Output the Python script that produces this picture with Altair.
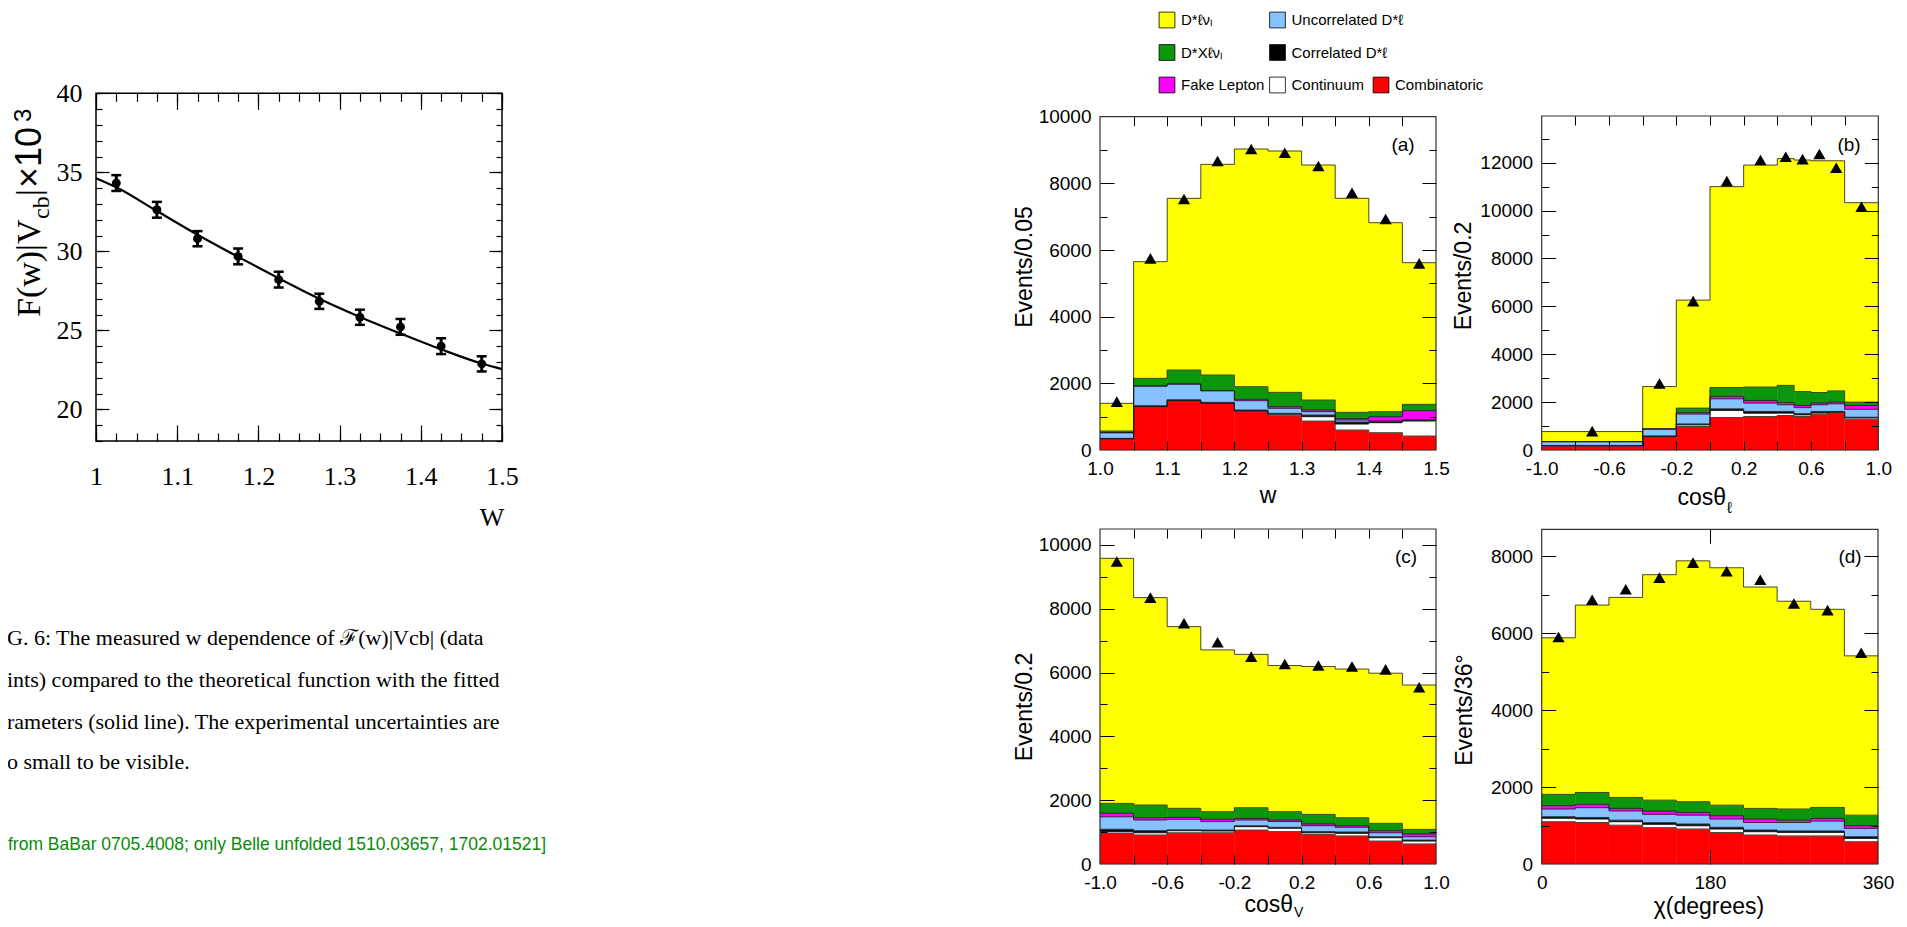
import altair as alt
import pandas as pd

WT, HT = 1891, 911
SERIF = "Liberation Serif"
SANS = "Liberation Sans"

# ---------------- left plot: F(w)|Vcb| x 10^3 ----------------
w_points = [1.025, 1.075, 1.125, 1.175, 1.225, 1.275, 1.325, 1.375, 1.425, 1.475]
F_points = [34.32, 32.63, 30.80, 29.68, 28.21, 26.84, 25.83, 25.22, 24.00, 22.88]
F_errors = [0.50, 0.50, 0.48, 0.50, 0.50, 0.48, 0.48, 0.50, 0.50, 0.48]
w_curve = [1.000, 1.025, 1.075, 1.125, 1.175, 1.225, 1.275, 1.325, 1.375, 1.425, 1.475, 1.500]
F_curve = [34.63, 34.05, 32.55, 31.05, 29.65, 28.30, 27.00, 25.85, 24.80, 23.80, 22.90, 22.55]

# ---------------- stacked histograms ----------------
components = ["Combinatoric", "Continuum", "Correlated D*ℓ", "Uncorrelated D*ℓ",
              "Fake Lepton", "D*Xℓν", "D*ℓν"]
comp_colors = ["#ff0000", "#ffffff", "#000000", "#86c2ff", "#ff00ff", "#0b960b", "#ffff00"]

# (a) w
a_edges = [1.00, 1.05, 1.10, 1.15, 1.20, 1.25, 1.30, 1.35, 1.40, 1.45, 1.50]
a_comb = [330, 1300, 1480, 1400, 1150, 1030, 870, 600, 520, 420]
a_cont = [0, 0, 0, 0, 20, 40, 130, 180, 300, 450]
a_corr = [20, 30, 30, 30, 30, 30, 50, 60, 30, 30]
a_uncorr = [170, 590, 470, 350, 280, 150, 100, 60, 20, 0]
a_fake = [0, 0, 0, 0, 40, 50, 50, 40, 130, 280]
a_dx = [50, 230, 420, 470, 380, 430, 300, 190, 150, 190]
a_total = [1400, 5650, 7550, 8570, 9030, 8970, 8550, 7550, 6820, 5620]
a_data_x = [1.025, 1.075, 1.125, 1.175, 1.225, 1.275, 1.325, 1.375, 1.425, 1.475]
a_data_y = [1450, 5750, 7530, 8670, 9030, 8920, 8520, 7720, 6930, 5600]

# (b) cos theta_l
b_edges = [-1.0, -0.4, -0.2, 0.0, 0.2, 0.4, 0.5, 0.6, 0.7, 0.8, 1.0]
b_comb = [170, 560, 980, 1355, 1400, 1440, 1400, 1500, 1580, 1285]
b_cont = [0, 0, 70, 295, 140, 100, 70, 50, 0, 55]
b_corr = [20, 30, 40, 70, 70, 70, 50, 60, 30, 30]
b_uncorr = [160, 290, 410, 420, 350, 280, 250, 280, 320, 330]
b_fake = [0, 0, 60, 100, 110, 90, 90, 70, 70, 160]
b_dx = [0, 0, 190, 370, 560, 720, 580, 440, 470, 140]
b_total = [770, 2650, 6260, 11000, 11900, 12170, 12110, 12080, 12080, 10330]
b_data_x = [-0.7, -0.3, -0.1, 0.1, 0.3, 0.45, 0.55, 0.65, 0.75, 0.9]
b_data_y = [790, 2780, 6220, 11230, 12110, 12250, 12150, 12360, 11790, 10160]

# (c) cos theta_V
c_edges = [-1.0, -0.8, -0.6, -0.4, -0.2, 0.0, 0.2, 0.4, 0.6, 0.8, 1.0]
c_comb = [960, 910, 980, 980, 1065, 1015, 930, 880, 720, 630]
c_cont = [50, 70, 65, 55, 105, 105, 50, 80, 105, 90]
c_corr = [80, 65, 25, 30, 30, 30, 35, 45, 30, 30]
c_uncorr = [390, 335, 330, 265, 180, 180, 185, 145, 125, 105]
c_fake = [110, 70, 60, 70, 50, 50, 55, 50, 65, 85]
c_dx = [310, 400, 285, 240, 335, 260, 300, 250, 230, 145]
c_total = [9580, 8350, 7440, 6710, 6570, 6220, 6190, 6110, 5980, 5610]
c_data_x = [-0.9, -0.7, -0.5, -0.3, -0.1, 0.1, 0.3, 0.5, 0.7, 0.9]
c_data_y = [9480, 8350, 7545, 6950, 6500, 6270, 6220, 6190, 6100, 5540]

# (d) chi
d_edges = [0, 36, 72, 108, 144, 180, 216, 252, 288, 324, 360]
d_comb = [1100, 1080, 1010, 945, 910, 820, 755, 730, 730, 580]
d_cont = [90, 90, 90, 85, 85, 90, 85, 90, 90, 85]
d_corr = [40, 40, 40, 45, 45, 45, 45, 40, 40, 45]
d_uncorr = [200, 255, 240, 215, 230, 215, 195, 220, 255, 215]
d_fake = [85, 85, 65, 85, 70, 85, 90, 60, 70, 70]
d_dx = [295, 310, 285, 285, 280, 275, 275, 290, 285, 275]
d_total = [5880, 6730, 6930, 7520, 7880, 7700, 7200, 6830, 6620, 5410]
d_data_x = [18, 54, 90, 126, 162, 198, 234, 270, 306, 342]
d_data_y = [5900, 6870, 7140, 7445, 7835, 7610, 7390, 6770, 6600, 5490]

# ---------------- legend / texts ----------------
legend_labels = ["D*ℓνₗ", "D*Xℓνₗ", "Fake Lepton", "Uncorrelated D*ℓ",
                 "Correlated D*ℓ", "Continuum", "Combinatoric"]
legend_colors = ["#ffff00", "#0b960b", "#ff00ff", "#86c2ff", "#000000", "#ffffff", "#ff0000"]
legend_col = [0, 0, 0, 1, 1, 1, 2]
legend_row = [0, 1, 2, 0, 1, 2, 2]

caption_lines = [
    "G. 6:  The measured w dependence of ℱ(w)|Vcb| (data",
    "ints) compared to the theoretical function with the fitted",
    "rameters (solid line).  The experimental uncertainties are",
    "o small to be visible.",
]
note_text = "from BaBar 0705.4008; only Belle unfolded 1510.03657, 1702.01521]"

# ---------------- geometry (chart pixel coordinates) ----------------
P_LEFT = dict(x0=88, x1=494, y0=85.3, y1=433, xd=[1.0, 1.5], yd=[18, 40])
P_A = dict(x0=1092, x1=1428, y0=108.7, y1=442, xd=[1.0, 1.5], yd=[0, 10000])
P_B = dict(x0=1533.7, x1=1870.3, y0=108, y1=442, xd=[-1.0, 1.0], yd=[0, 13950])
P_C = dict(x0=1092, x1=1428, y0=521, y1=856, xd=[-1.0, 1.0], yd=[0, 10500])
P_D = dict(x0=1533.7, x1=1870, y0=521.3, y1=856, xd=[0, 360], yd=[0, 8700])

HYPHEN_1F = "datum.value < 0 ? '-' + format(-datum.value, '.1f') : format(datum.value, '.1f')"


def xs(p):
    return alt.Scale(domain=p["xd"], range=[p["x0"], p["x1"]], nice=False, zero=False)


def ys(p):
    return alt.Scale(domain=p["yd"], range=[p["y1"], p["y0"]], nice=False, zero=False)


def label_ax(orient, offset, values, font, size, pad, fmt=None, expr=None):
    kw = dict(orient=orient, offset=offset, values=values, labels=True, ticks=False,
              tickSize=0, domain=False, grid=False, title=None, labelFont=font,
              labelFontSize=size, labelPadding=pad, labelFlush=False,
              labelOverlap=False, labelColor="black")
    if expr:
        kw["labelExpr"] = expr
    else:
        kw["format"] = fmt
    return alt.Axis(**kw)


def tick_ax(orient, offset, values, size, width=1):
    return alt.Axis(orient=orient, offset=offset, values=values, labels=False, ticks=True,
                    tickSize=size, tickColor="black", tickWidth=width, domain=False,
                    grid=False, title=None, zindex=2)


def axis_layer(p, xaxis, yaxis):
    d = pd.DataFrame({"x": p["xd"], "y": p["yd"]})
    return alt.Chart(d).mark_point(opacity=0).encode(
        x=alt.X("x:Q", scale=xs(p), axis=xaxis),
        y=alt.Y("y:Q", scale=ys(p), axis=yaxis))


def panel_axes(p, xlabax, ylabax, xmaj, lxmaj, xmin, lxmin, ymaj, lymaj, ymin, lymin, tw=1):
    out = [axis_layer(p, xlabax, ylabax)]
    out.append(axis_layer(p, tick_ax("bottom", p["y1"] - lxmaj - HT, xmaj, lxmaj, tw),
                          tick_ax("left", -(p["x0"] + lymaj), ymaj, lymaj, tw)))
    out.append(axis_layer(p, tick_ax("top", -(p["y0"] + lxmaj), xmaj, lxmaj, tw),
                          tick_ax("right", p["x1"] - lymaj - WT, ymaj, lymaj, tw)))
    out.append(axis_layer(p,
                          tick_ax("bottom", p["y1"] - lxmin - HT, xmin, lxmin, tw) if xmin else None,
                          tick_ax("left", -(p["x0"] + lymin), ymin, lymin, tw)))
    out.append(axis_layer(p,
                          tick_ax("top", -(p["y0"] + lxmin), xmin, lxmin, tw) if xmin else None,
                          tick_ax("right", p["x1"] - lymin - WT, ymin, lymin, tw)))
    return out


def frame_layer(p, width=1.2, color="#222222"):
    d = pd.DataFrame({"a": [p["xd"][0]], "b": [p["xd"][1]], "c": [p["yd"][0]], "e": [p["yd"][1]]})
    return alt.Chart(d).mark_rect(fillOpacity=0, stroke=color, strokeWidth=width).encode(
        x=alt.X("a:Q", scale=xs(p), axis=None), x2="b:Q",
        y=alt.Y("c:Q", scale=ys(p), axis=None), y2="e:Q")


def txt(s, x, y, size, font=SANS, angle=0, align="center", baseline="middle", color="black"):
    d = pd.DataFrame({"t": [s]})
    return alt.Chart(d).mark_text(font=font, fontSize=size, angle=angle, align=align,
                                  baseline=baseline, color=color).encode(
        text="t:N", x=alt.value(x), y=alt.value(y))


def hist_layers(p, edges, parts, total, dx, dy):
    rows, lines = [], []
    n = len(total)
    for i in range(n):
        hs = [c[i] for c in parts]
        hs.append(total[i] - sum(hs))
        base = 0
        for name, h in zip(components, hs):
            rows.append(dict(comp=name, lo=edges[i], hi=edges[i + 1], y0=base, y1=base + h))
            base += h
    df = pd.DataFrame(rows)
    for name in components:
        sub = df[df.comp == name].reset_index(drop=True)
        for i in range(n):
            lines.append(dict(comp=name, x=sub.lo[i], y=sub.y1[i]))
        lines.append(dict(comp=name, x=sub.hi[n - 1], y=sub.y1[n - 1]))
    ldf = pd.DataFrame(lines)
    cscale = alt.Scale(domain=components, range=comp_colors)
    rect = alt.Chart(df).mark_rect(strokeWidth=0.4).encode(
        x=alt.X("lo:Q", scale=xs(p), axis=None), x2="hi:Q",
        y=alt.Y("y0:Q", scale=ys(p), axis=None), y2="y1:Q",
        color=alt.Color("comp:N", scale=cscale, legend=None),
        stroke=alt.Stroke("comp:N", scale=cscale, legend=None))
    outl = alt.Chart(ldf).mark_line(interpolate="step-after", color="#1a1a1a",
                                    strokeWidth=0.8).encode(
        x=alt.X("x:Q", scale=xs(p), axis=None),
        y=alt.Y("y:Q", scale=ys(p), axis=None), detail="comp:N")
    pts = alt.Chart(pd.DataFrame({"x": dx, "y": dy})).mark_point(
        shape="triangle-up", filled=True, color="black", size=150, opacity=1).encode(
        x=alt.X("x:Q", scale=xs(p), axis=None),
        y=alt.Y("y:Q", scale=ys(p), axis=None))
    return [rect, outl, pts]


layers = []

# ---------------- left plot ----------------
pl = P_LEFT
ldf = pd.DataFrame({"w": w_points, "F": F_points,
                    "lo": [f - e for f, e in zip(F_points, F_errors)],
                    "hi": [f + e for f, e in zip(F_points, F_errors)]})
cdf = pd.DataFrame({"w": w_curve, "F": F_curve})
layers.append(alt.Chart(cdf).mark_line(interpolate="monotone", color="black", strokeWidth=2.2).encode(
    x=alt.X("w:Q", scale=xs(pl), axis=None), y=alt.Y("F:Q", scale=ys(pl), axis=None)))
layers.append(alt.Chart(ldf).mark_rule(color="black", strokeWidth=3).encode(
    x=alt.X("w:Q", scale=xs(pl), axis=None), y=alt.Y("lo:Q", scale=ys(pl), axis=None), y2="hi:Q"))
for fld in ["lo", "hi"]:
    layers.append(alt.Chart(ldf).mark_tick(orient="horizontal", size=10, thickness=2.5,
                                           color="black", opacity=1).encode(
        x=alt.X("w:Q", scale=xs(pl), axis=None), y=alt.Y(fld + ":Q", scale=ys(pl), axis=None)))
layers.append(alt.Chart(ldf).mark_circle(size=80, color="black", opacity=1).encode(
    x=alt.X("w:Q", scale=xs(pl), axis=None), y=alt.Y("F:Q", scale=ys(pl), axis=None)))

left_xmaj = [1.0, 1.1, 1.2, 1.3, 1.4, 1.5]
left_xmin = [round(1.0 + 0.025 * k, 3) for k in range(21)]
left_ymaj = [20, 25, 30, 35, 40]
left_ymin = list(range(18, 41))
layers += panel_axes(pl,
                     label_ax("bottom", pl["y1"] - HT, left_xmaj, SERIF, 26, 22, ".1~f"),
                     label_ax("left", -pl["x0"], left_ymaj, SERIF, 26, 14, "d"),
                     left_xmaj, 16, left_xmin, 8, left_ymaj, 13, left_ymin, 6, tw=1.2)
layers.append(frame_layer(pl, 1.5, "black"))

# left plot titles
layers.append(txt("F(w)|V", 22, 309, 34, SERIF, 270, "left"))
layers.append(txt("cb", 34, 211, 24, SERIF, 270, "left"))
layers.append(txt("|", 22, 188, 34, SERIF, 270, "left"))
layers.append(txt("×10", 22, 180, 36, SANS, 270, "left"))
layers.append(txt("3", 16, 114, 24, SANS, 270, "left"))
layers.append(txt("W", 484, 510, 26, SERIF))

# caption and note
cap_y = [630, 672, 714, 754]
for line, yy in zip(caption_lines, cap_y):
    layers.append(txt(line, -1, yy, 22, SERIF, 0, "left"))
layers.append(txt(note_text, 0, 837, 17.5, SANS, 0, "left", color="#0a8a0a"))

# ---------------- right panels ----------------
layers += hist_layers(P_A, a_edges, [a_comb, a_cont, a_corr, a_uncorr, a_fake, a_dx], a_total,
                      a_data_x, a_data_y)
layers += hist_layers(P_B, b_edges, [b_comb, b_cont, b_corr, b_uncorr, b_fake, b_dx], b_total,
                      b_data_x, b_data_y)
layers += hist_layers(P_C, c_edges, [c_comb, c_cont, c_corr, c_uncorr, c_fake, c_dx], c_total,
                      c_data_x, c_data_y)
layers += hist_layers(P_D, d_edges, [d_comb, d_cont, d_corr, d_uncorr, d_fake, d_dx], d_total,
                      d_data_x, d_data_y)

ax_w = [1.0, 1.1, 1.2, 1.3, 1.4, 1.5]
ax_w_t = [round(1.05 + 0.05 * k, 2) for k in range(9)]
ax_c = [-1.0, -0.6, -0.2, 0.2, 0.6, 1.0]
ax_c_t = [-0.8, -0.6, -0.4, -0.2, 0.0, 0.2, 0.4, 0.6, 0.8]
XP, YP, FS = 9, 9, 19
layers += panel_axes(P_A,
                     label_ax("bottom", P_A["y1"] - HT, ax_w, SANS, FS, XP, ".1f"),
                     label_ax("left", -P_A["x0"], [0, 2000, 4000, 6000, 8000, 10000], SANS, FS, YP, "d"),
                     ax_w_t, 9, None, 0, [2000, 4000, 6000, 8000], 14,
                     [1000, 3000, 5000, 7000, 9000], 7)
layers += panel_axes(P_B,
                     label_ax("bottom", P_B["y1"] - HT, ax_c, SANS, FS, XP, expr=HYPHEN_1F),
                     label_ax("left", -P_B["x0"], [0, 2000, 4000, 6000, 8000, 10000, 12000],
                              SANS, FS, YP, "d"),
                     ax_c_t, 9, None, 0, [2000, 4000, 6000, 8000, 10000, 12000], 14,
                     [1000, 3000, 5000, 7000, 9000, 11000, 13000], 7)
layers += panel_axes(P_C,
                     label_ax("bottom", P_C["y1"] - HT, ax_c, SANS, FS, XP, expr=HYPHEN_1F),
                     label_ax("left", -P_C["x0"], [0, 2000, 4000, 6000, 8000, 10000], SANS, FS, YP, "d"),
                     ax_c_t, 9, None, 0, [2000, 4000, 6000, 8000, 10000], 14,
                     [1000, 3000, 5000, 7000, 9000], 7)
layers += panel_axes(P_D,
                     label_ax("bottom", P_D["y1"] - HT, [0, 180, 360], SANS, FS, XP, "d"),
                     label_ax("left", -P_D["x0"], [0, 2000, 4000, 6000, 8000], SANS, FS, YP, "d"),
                     [180], 14, None, 0, [2000, 4000, 6000, 8000], 14,
                     [1000, 3000, 5000, 7000], 7)
for p in [P_A, P_B, P_C, P_D]:
    layers.append(frame_layer(p, 1.2, "#333333"))

# panel titles
layers.append(txt("w", 1260, 488, 23))
layers.append(txt("cosθ", 1718, 490, 23, SANS, 0, "right"))
layers.append(txt("ℓ", 1719, 500, 16, SANS, 0, "left"))
layers.append(txt("cosθ", 1285, 897, 23, SANS, 0, "right"))
layers.append(txt("V", 1286, 905, 14, SANS, 0, "left"))
layers.append(txt("χ(degrees)", 1701, 899, 23))
layers.append(txt("Events/0.05", 1017, 259, 23, SANS, 270))
layers.append(txt("Events/0.2", 1456, 268, 23, SANS, 270))
layers.append(txt("Events/0.2", 1017, 699, 23, SANS, 270))
layers.append(txt("Events/36°", 1457, 702, 23, SANS, 270))
layers.append(txt("(a)", 1395, 137, 19))
layers.append(txt("(b)", 1841, 137, 19))
layers.append(txt("(c)", 1398, 549, 19))
layers.append(txt("(d)", 1842, 549, 19))

# legend
legdf = pd.DataFrame({"col": legend_col, "row": legend_row, "label": legend_labels,
                      "color": legend_colors})
lx = alt.Scale(domain=[0, 1, 2], range=[1159, 1269.5, 1373], nice=False, zero=False)
ly = alt.Scale(domain=[0, 2], range=[12, 77], nice=False, zero=False)
layers.append(alt.Chart(legdf).mark_square(size=250, stroke="black", strokeWidth=0.8, opacity=1).encode(
    x=alt.X("col:Q", scale=lx, axis=None), y=alt.Y("row:Q", scale=ly, axis=None),
    fill=alt.Fill("color:N", scale=None)))
layers.append(alt.Chart(legdf).mark_text(align="left", baseline="middle", dx=14, font=SANS,
                                         fontSize=15, color="black").encode(
    x=alt.X("col:Q", scale=lx, axis=None), y=alt.Y("row:Q", scale=ly, axis=None), text="label:N"))

chart = alt.layer(*layers).properties(
    width=WT, height=HT, autosize=alt.AutoSizeParams(type="none"), padding=0,
    background="white"
).resolve_scale(x="independent", y="independent").resolve_axis(
    x="independent", y="independent").configure_view(stroke=None)

chart.save("out.html", embed_options={"renderer": "svg", "actions": False})
